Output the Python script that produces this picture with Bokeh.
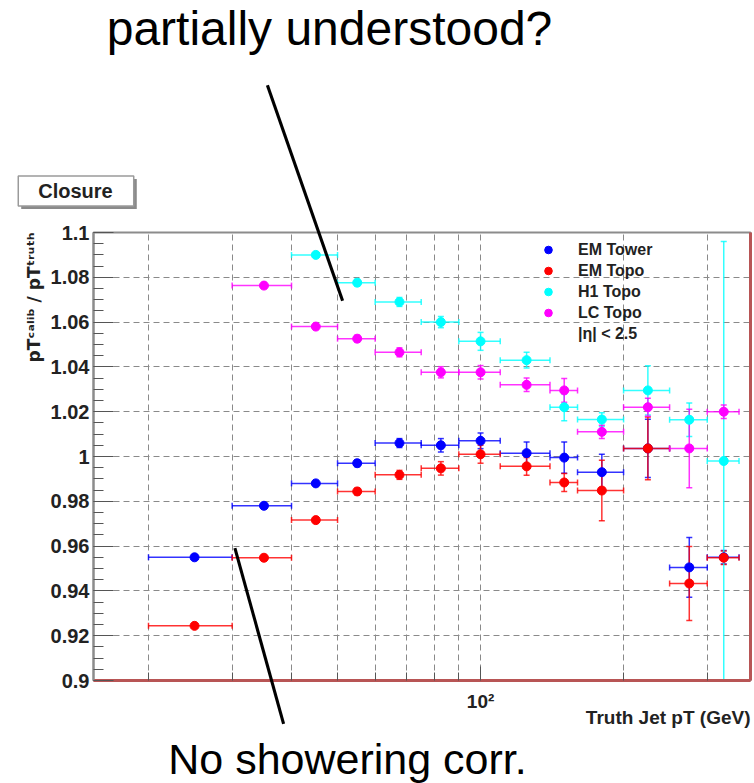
import math
import numpy as np
from bokeh.plotting import figure
from bokeh.models import (Range1d, FixedTicker, CustomJSTickFormatter, Whisker, TeeHead,
                          ColumnDataSource, Label, Legend, LegendItem, LogAxis)
from bokeh.embed import file_html
from bokeh.resources import INLINE

# ---------------- data ----------------
pt_lo = [20, 30, 40, 50, 60, 75, 90, 110, 140, 160, 200, 250, 300]
pt_hi = [30, 40, 50, 60, 75, 90, 110, 140, 160, 200, 250, 300, 350]

em_tower     = [0.955, 0.978, 0.988, 0.997, 1.006, 1.005, 1.007, 1.0015, 0.9995, 0.993, 1.0036, 0.9505, 0.955]
em_tower_err = [0.001, 0.001, 0.001, 0.0015, 0.002, 0.003, 0.0035, 0.005, 0.007, 0.008, 0.013, 0.0133, 0.003]

em_topo      = [0.9244, 0.9548, 0.9716, 0.9844, 0.9918, 0.9947, 1.001, 0.9956, 0.9884, 0.9848, 1.0036, 0.9433, 0.9548]
em_topo_err  = [0.001, 0.001, 0.0012, 0.0015, 0.002, 0.003, 0.004, 0.004, 0.004, 0.0135, 0.014, 0.0165, 0.003]

h1_topo      = [None, None, 1.090, 1.0776, 1.069, 1.060, 1.0514, 1.043, 1.022, 1.0165, 1.0295, 1.0164, 0.998]
h1_topo_err  = [None, None, 0.001, 0.0015, 0.002, 0.0025, 0.004, 0.0035, 0.006, 0.003, 0.011, 0.0075, 0.098]

lc_topo      = [None, 1.0763, 1.058, 1.0526, 1.0465, 1.0376, 1.0376, 1.032, 1.0295, 1.011, 1.022, 1.0036, 1.020]
lc_topo_err  = [None, 0.001, 0.001, 0.0015, 0.002, 0.0025, 0.003, 0.003, 0.0053, 0.003, 0.004, 0.0175, 0.003]

series_names  = ["EM Tower", "EM Topo", "H1 Topo", "LC Topo"]
series_colors = ["#0000ff", "#ff0000", "#00ffff", "#ff00ff"]

y_ticks = [0.90, 0.92, 0.94, 0.96, 0.98, 1.00, 1.02, 1.04, 1.06, 1.08, 1.10]
x_major_ticks = [100]
x_minor_ticks = [20, 30, 40, 50, 60, 70, 80, 90, 200, 300]

X0, X1 = 15.32, 370.0
Y0, Y1 = 0.9, 1.1

# ---------------- figure geometry (pixels of frame) ----------------
W, H = 754, 783
FL, FR, FT, FB = 93, 750, 232, 680

def wx(px):
    return 10 ** (math.log10(X0) + (px - FL) / (FR - FL) * (math.log10(X1) - math.log10(X0)))

def wy(py):
    return Y1 - (py - FT) / (FB - FT) * (Y1 - Y0)

p = figure(width=W, height=H, x_axis_type="log", x_range=Range1d(X0, X1), y_range=Range1d(Y0, Y1),
           output_backend="svg", toolbar_location=None,
           min_border_left=FL, min_border_top=FT, min_border_bottom=H - FB,
           min_border_right=W - FR)
p.background_fill_color = "white"
p.border_fill_color = "white"
p.outline_line_color = "#8c8c8c"
p.outline_line_width = 2

RED = "#b85555"

# axes
yax = p.yaxis[0]
yax.ticker = FixedTicker(ticks=y_ticks, minor_ticks=list(np.round(np.arange(0.9, 1.1001, 0.005), 3)))
yax.formatter = CustomJSTickFormatter(code="return Number(tick.toFixed(2)).toString();")
yax.major_tick_in = 20
yax.major_tick_out = 0
yax.minor_tick_in = 10
yax.minor_tick_out = 0
yax.major_tick_line_color = "#555555"
yax.minor_tick_line_color = "#555555"
yax.axis_line_color = "#8c8c8c"
yax.axis_line_width = 2
yax.major_label_text_font = "Liberation Sans"
yax.major_label_text_font_style = "bold"
yax.major_label_text_font_size = "20px"
yax.major_label_text_color = "#222222"
yax.major_label_standoff = 4

xax = p.xaxis[0]
xax.ticker = FixedTicker(ticks=x_major_ticks, minor_ticks=x_minor_ticks)
xax.formatter = CustomJSTickFormatter(code="return '10\u00b2';")
xax.major_tick_in = 14
xax.major_tick_out = 0
xax.minor_tick_in = 8
xax.minor_tick_out = 0
xax.major_tick_line_color = "#555555"
xax.minor_tick_line_color = "#555555"
xax.axis_line_color = RED
xax.axis_line_width = 3
xax.major_label_text_font = "Liberation Sans"
xax.major_label_text_font_style = "bold"
xax.major_label_text_font_size = "19px"
xax.major_label_text_color = "#222222"
xax.major_label_standoff = 10

# right frame edge (red), as a bare axis
rax = LogAxis(ticker=FixedTicker(ticks=[]), axis_line_color=RED, axis_line_width=3,
              major_tick_line_color=None, minor_tick_line_color=None,
              major_label_text_font_size="0px", major_label_standoff=0)
p.add_layout(rax, "right")

# grids
p.xgrid.ticker = FixedTicker(ticks=x_major_ticks, minor_ticks=x_minor_ticks)
for g in (p.xgrid[0], p.ygrid[0]):
    g.grid_line_color = "#8a8a8a"
    g.grid_line_dash = "6 4"
    g.grid_line_width = 1
p.xgrid.minor_grid_line_color = "#8a8a8a"
p.xgrid.minor_grid_line_dash = "6 4"
p.ygrid.ticker = FixedTicker(ticks=y_ticks)

# ---------------- series ----------------
def make_source(vals, errs):
    d = dict(x=[], xlo=[], xhi=[], y=[], ylo=[], yhi=[])
    for lo, hi, v, e in zip(pt_lo, pt_hi, vals, errs):
        if v is None:
            continue
        d["x"].append((lo + hi) / 2)
        d["xlo"].append(lo)
        d["xhi"].append(hi)
        d["y"].append(v)
        d["ylo"].append(v - e)
        d["yhi"].append(v + e)
    return ColumnDataSource(d)

renderers = []
for vals, errs, col in zip([em_tower, em_topo, h1_topo, lc_topo],
                           [em_tower_err, em_topo_err, h1_topo_err, lc_topo_err],
                           series_colors):
    src = make_source(vals, errs)
    for dim, base, lo, hi in (("width", "y", "xlo", "xhi"), ("height", "x", "ylo", "yhi")):
        w = Whisker(source=src, base=base, lower=lo, upper=hi, dimension=dim,
                    line_color=col, line_width=1.5, line_alpha=0.8,
                    upper_head=TeeHead(size=6, line_color=col, line_width=1.5, line_alpha=0.8),
                    lower_head=TeeHead(size=6, line_color=col, line_width=1.5, line_alpha=0.8))
        p.add_layout(w)
    r = p.scatter(x="x", y="y", source=src, size=9, fill_color=col, line_color=col, marker="circle")
    renderers.append(r)

dummy = p.scatter(x=[], y=[], size=9, fill_alpha=0, line_alpha=0)

items = [LegendItem(label=n, renderers=[r]) for n, r in zip(series_names, renderers)]
items.append(LegendItem(label="|\u03b7| < 2.5", renderers=[dummy]))
legend = Legend(items=items, location=(534 - FL, FB - 347), margin=0, padding=4, spacing=2,
                glyph_width=20, glyph_height=19, label_height=19, label_standoff=20,
                label_text_font="Liberation Sans", label_text_font_style="bold",
                label_text_font_size="16px", label_text_color="#222222",
                border_line_alpha=0, background_fill_alpha=0)
p.add_layout(legend)

# ---------------- annotations outside the frame (side panels) ----------------
def lab(place, **kw):
    p.add_layout(Label(**kw), place)

lab("above", x=wx(329), y=wy(28), text="partially understood?", text_align="center",
    text_baseline="alphabetic", text_font="Liberation Sans", text_font_size="48px",
    text_color="black")

# "Closure" pave with shadow
lab("above", x=wx(75.5), y=wy(190.5), text=" ", text_color="#8a8a8a",
    text_font="Liberation Sans", text_font_style="bold", text_font_size="20px",
    text_align="center", text_baseline="middle", x_offset=3, y_offset=-3,
    background_fill_color="#8a8a8a", padding=(55, 55, 4, 4))
lab("above", x=wx(75.5), y=wy(190.5), text="Closure", text_color="#222222",
    text_font="Liberation Sans", text_font_style="bold", text_font_size="20px",
    text_align="center", text_baseline="middle",
    background_fill_color="white", border_line_color="#9a9a9a", border_line_width=1.5,
    padding=(20, 21, 4, 4))

# pointer lines: thin rotated boxes from the top-text to the plot and from the plot to the bottom text
def pointer(x0, y0, x1, y1):
    length = math.hypot(x1 - x0, y1 - y0)
    ang = math.atan2(-(y1 - y0), x1 - x0)
    half = int(round(length / 2))
    lab("above", x=wx((x0 + x1) / 2), y=wy((y0 + y1) / 2), text=" ", text_font_size="1px",
        text_color="black", text_align="center", text_baseline="middle", angle=ang,
        background_fill_color="black", padding=(half, half, 1, 1))

pointer(267, 85, 342, 300)
pointer(234.5, 548, 283, 723)

lab("left", x=wx(33), y=wy(297), text="pT\u1d9c\u1d43\u02e1\u2071\u1d47 / pT\u1d57\u02b3\u1d58\u1d57\u02b0",
    angle=math.pi / 2, text_align="center", text_baseline="middle",
    text_font="DejaVu Sans", text_font_style="bold", text_font_size="17px",
    text_color="#222222")

lab("below", x=wx(FR), y=wy(717), text="Truth Jet pT (GeV)", text_align="right",
    text_baseline="alphabetic", text_font="Liberation Sans", text_font_style="bold",
    text_font_size="19px", text_color="#222222")
lab("below", x=wx(347), y=wy(758), text="No showering corr.", text_align="center",
    text_baseline="alphabetic", text_font="Liberation Sans", text_font_size="43px",
    text_color="black")

open("out.html", "w").write(file_html(p, INLINE))
